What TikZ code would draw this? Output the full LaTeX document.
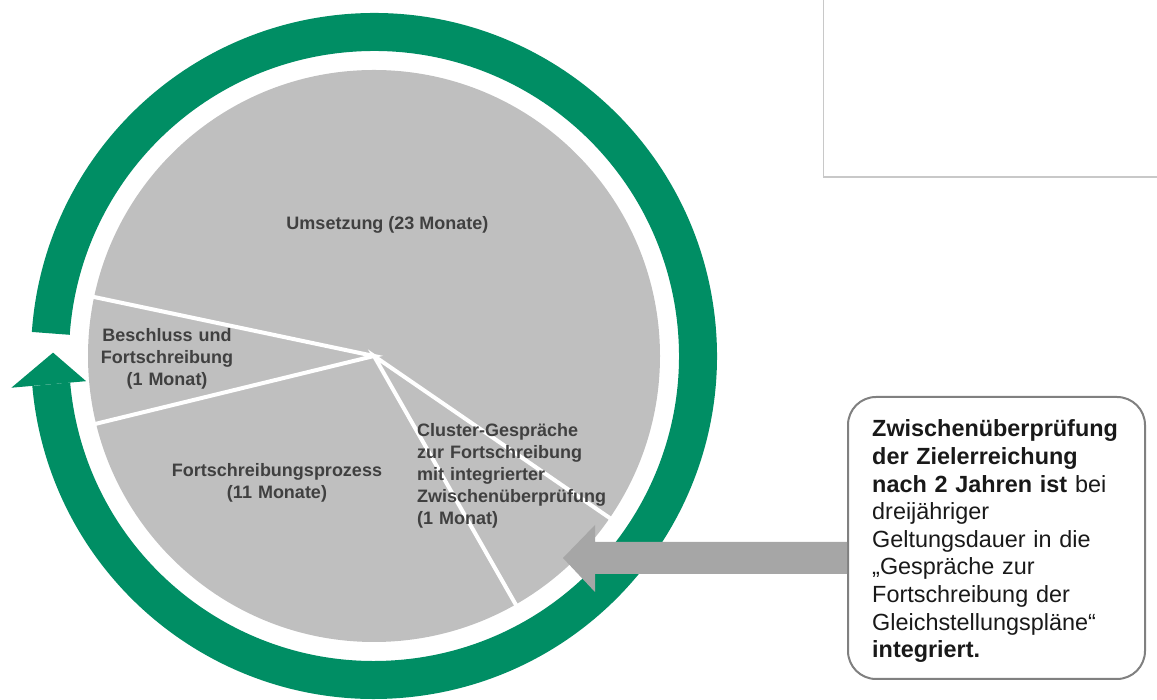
\documentclass[tikz,border=0pt]{standalone}
\usepackage{fontspec}
\setmainfont{Liberation Sans}
\usetikzlibrary{calc}
\definecolor{ringgreen}{RGB}{0,142,100}
\definecolor{piegray}{RGB}{191,191,191}
\definecolor{arrowgray}{RGB}{166,166,166}
\definecolor{labeltext}{RGB}{64,64,64}
\definecolor{boxborder}{RGB}{128,128,128}
\definecolor{framegray}{RGB}{200,200,200}
\begin{document}
\begin{tikzpicture}[x=1pt,y=1pt,
  pielabel/.style={font=\fontsize{18}{22}\selectfont\bfseries, text=labeltext, inner sep=0},
  spoke/.style={white, line width=4},
  calloutbox/.style={draw=boxborder, line width=2, rounded corners=28, fill=white,
    minimum width=297, minimum height=282, inner sep=0},
  callouttxt/.style={anchor=base west, text width=265, align=left, inner sep=0,
    font=\fontsize{23.4}{27.6}\selectfont, text=black!90}]
\useasboundingbox (0,0) rectangle (1157,700);
% ring with arrow head
\begin{scope}[shift={(374,344)}]
  \draw[ringgreen, line width=38] (185:324) arc[start angle=185, end angle=536, radius=324];
  \fill[ringgreen] (185:289) -- (185:364) -- (179.4:321) -- cycle;
  % pie
  \fill[piegray] (0,0) circle[radius=286];
  \coordinate (pc) at (0,0);
  \coordinate (s1) at (168.1:287);
  \coordinate (s2) at (193.7:287);
  \coordinate (s3) at (299.7:287);
  \coordinate (s4) at (325.5:287);
  \draw[spoke] (s1) -- (pc) -- (s2);
  \draw[spoke] (s3) -- (pc) -- (s4);
\end{scope}
% labels
\node[pielabel, anchor=base] (umsetzung) at (387.5,470) {Umsetzung (23 Monate)};
\node[pielabel, anchor=base, text width=150, align=center] (beschluss) at (167,358)
  {Beschluss und\\Fortschreibung\\(1 Monat)};
\node[pielabel, anchor=base, text width=240, align=center] (prozess) at (277,223.5)
  {Fortschreibungsprozess\\(11 Monate)};
\node[pielabel, anchor=base west, text width=220, align=left] (cluster) at (417,263.5)
  {Cluster-Gespräche\\zur Fortschreibung\\mit integrierter\\Zwischenüberprüfung\\(1 Monat)};
% callout
\node[calloutbox] (callout) at (996.5,162) {};
\node[callouttxt] (callouttext) at (872,263)
  {\textbf{Zwischenüberprüfung}\\\textbf{der Zielerreichung}\\\textbf{nach 2 Jahren ist} bei\\dreijähriger\\Geltungsdauer in die\\„Gespräche zur\\Fortschreibung der\\Gleichstellungspläne“\\\textbf{integriert.}};
% gray arrow from callout to pie
\coordinate (arrowstart) at ($(callout.west)+(0,-20)$);
\coordinate (arrowtip) at (563,142);
\fill[arrowgray] ($(arrowstart)+(0,16)$) -- ($(arrowtip)+(32,16)$) -- ($(arrowtip)+(32,33)$)
  -- (arrowtip) -- ($(arrowtip)+(32,-34)$) -- ($(arrowtip)+(32,-16)$)
  -- ($(arrowstart)+(0,-16)$) -- cycle;
% top right frame
\draw[framegray, line width=1.2] (823.5,705) -- (823.5,523) -- (1160,523);
\end{tikzpicture}
\end{document}
